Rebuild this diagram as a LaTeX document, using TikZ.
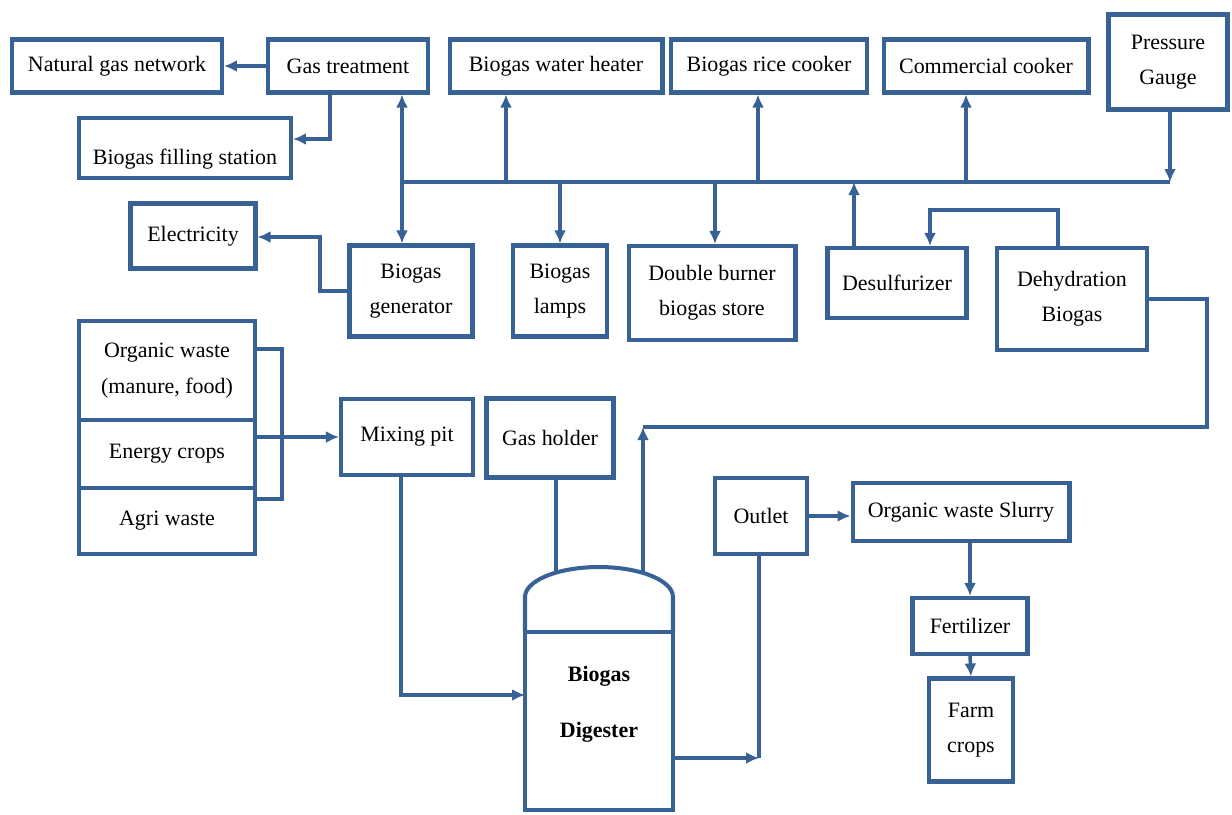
\documentclass[tikz,border=0pt]{standalone}
\usepackage{fontspec}
\setmainfont{Liberation Serif}
\usepackage{tikz}
\usetikzlibrary{arrows.meta}
\usetikzlibrary{calc}
\definecolor{pipe}{RGB}{56,98,150}

\begin{document}
\begin{tikzpicture}[x=0.02cm, y=-0.02cm,
   box/.style={draw=pipe, line width=2.3pt, fill=white, align=center, inner sep=2pt, font=\fontsize{12.5}{20}\selectfont},
   flow/.style={draw=pipe, line width=2pt, -{Latex[length=2.6mm,width=2.4mm]}},
   pipeline/.style={draw=pipe, line width=2pt}]
	\useasboundingbox[fill=white] (0,0) rectangle (1232,815);

	\node [box, minimum width=4.2cm, minimum height=1.06cm] (natgas) at (117,66) {Natural gas network};
	\node [box, minimum width=3.2cm, minimum height=1.06cm] (gastreat) at (348,66) {Gas treatment};
	\node [box, minimum width=4.26cm, minimum height=1.06cm] (heater) at (556,66) {Biogas water heater};
	\node [box, minimum width=3.92cm, minimum height=1.06cm] (rice) at (769,66) {Biogas rice cooker};
	\node [box, minimum width=4.1cm, minimum height=1.06cm] (commercial) at (986,66) {Commercial cooker};
	\node [box, minimum width=2.38cm, minimum height=1.9cm] (gauge) at (1168,62) {Pressure\\Gauge};
	\node [box, minimum width=4.24cm, minimum height=1.2cm, text height=21pt] (filling) at (185,148) {Biogas filling station};

	\node [box, minimum width=2.5cm, minimum height=1.3cm] (elec) at (193,236) {Electricity};
	\node [box, minimum width=2.46cm, minimum height=1.82cm] (gen) at (411,291) {Biogas\\generator};
	\node [box, minimum width=1.88cm, minimum height=1.82cm] (lamps) at (560,291) {Biogas\\lamps};
	\node [box, minimum width=3.34cm, minimum height=1.88cm] (double) at (712,293) {Double burner\\biogas store};
	\node [box, minimum width=2.78cm, minimum height=1.4cm] (desulf) at (897,283) {Desulfurizer};
	\node [box, minimum width=3.0cm, minimum height=2.04cm] (dehydr) at (1072,299) {Dehydration\\Biogas};

	\node [box, minimum width=3.52cm, minimum height=1.98cm] (organic) at (167,370.5) {Organic waste\\(manure, food)};
	\node [box, minimum width=3.52cm, minimum height=1.36cm] (energy) at (167,454) {Energy crops};
	\node [box, minimum width=3.52cm, minimum height=1.32cm] (agri) at (167,521) {Agri waste};
	\node [box, minimum width=2.64cm, minimum height=1.52cm] (mixing) at (407,437) {Mixing pit};
	\node [box, minimum width=2.54cm, minimum height=1.58cm] (holder) at (550,438) {Gas holder};
	\node [box, minimum width=1.84cm, minimum height=1.52cm] (outlet) at (761,516) {Outlet};
	\node [box, minimum width=4.34cm, minimum height=1.16cm] (slurry) at (961,512) {Organic waste Slurry};
	\node [box, minimum width=2.3cm, minimum height=1.12cm] (fert) at (970,626) {Fertilizer};
	\node [box, minimum width=1.68cm, minimum height=2.06cm] (farm) at (971,730) {Farm\\crops};

	\node [box, outer sep=0pt, minimum width=2.96cm, minimum height=3.56cm] (dig) at (599,721) {};
	\draw [draw=pipe, line width=2.3pt] (dig.north west) -- ++(0,-35)
		arc[start angle=180, end angle=0, x radius=1.48cm, y radius=0.6cm] -- (dig.north east);
	\node [font=\fontsize{12.5}{20}\selectfont\bfseries, align=center] (diglabel) at (599,704) {Biogas\\[12pt]Digester};

	\draw [flow] (gastreat.west) -- (natgas.east);
	\draw [flow] ($(gastreat.south west)+(64,0)$) |- ($(filling.east)+(0,-9)$);

	\coordinate (busL) at (402,182);
	\coordinate (busR) at (1170,182);
	\draw [pipeline] (busL) -- (busR);
	\draw [flow] (busL) -- (busL |- gastreat.south);
	\draw [flow] (busL) -- (busL |- gen.north);
	\draw [flow] (gauge.south -| busR) -- (busR);

	\foreach \bx/\dest in {506/heater, 758/rice, 966/commercial}{
		\coordinate (tap) at (\bx,182);
		\draw [flow] (tap) -- (tap |- \dest.south);
	}
	\foreach \bx/\dest in {560/lamps, 715/double}{
		\coordinate (tap) at (\bx,182);
		\draw [flow] (tap) -- (tap |- \dest.north);
	}
	\coordinate (tap) at (854,182);
	\draw [flow] (tap |- desulf.north) -- (tap);

	\coordinate (loopR) at (1058,210);
	\coordinate (loopL) at (930,210);
	\draw [flow] (loopR |- dehydr.north) -- (loopR) -- (loopL) -- (loopL |- desulf.north);

	\coordinate (elecK) at (320,237);
	\draw [flow] (gen.west) -| (elecK) -- (elecK -| elec.east);

	\coordinate (brT) at (282,349);
	\coordinate (brB) at (282,499);
	\draw [pipeline] (brT -| organic.east) -- (brT) -- (brB) -- (brB -| agri.east);
	\draw [flow] (mixing.west -| energy.east) -- (mixing.west);

	\coordinate (mixOut) at (401,475);
	\coordinate (digIn) at (525,695);
	\draw [flow] (mixOut) |- (digIn);

	\coordinate (domeA) at (556,573);
	\coordinate (domeB) at (643,573);
	\coordinate (gasK) at (643,427);
	\coordinate (pipeR) at (1207,427);
	\draw [pipeline] (holder.south -| domeA) -- (domeA);
	\draw [flow] (domeB) -- (gasK);
	\draw [pipeline] (gasK) -- (pipeR) |- (dehydr.east);

	\coordinate (outK) at (759,758);
	\draw [flow] (dig.east |- outK) -- (outK);
	\draw [pipeline] (outlet.south -| outK) -- (outK);
	\draw [flow] (outlet.east) -- (outlet.east -| slurry.west);
	\draw [flow] (fert.north |- slurry.south) -- (fert.north);
	\draw [flow] (fert.south) -- (farm.north);

\end{tikzpicture}
\end{document}
